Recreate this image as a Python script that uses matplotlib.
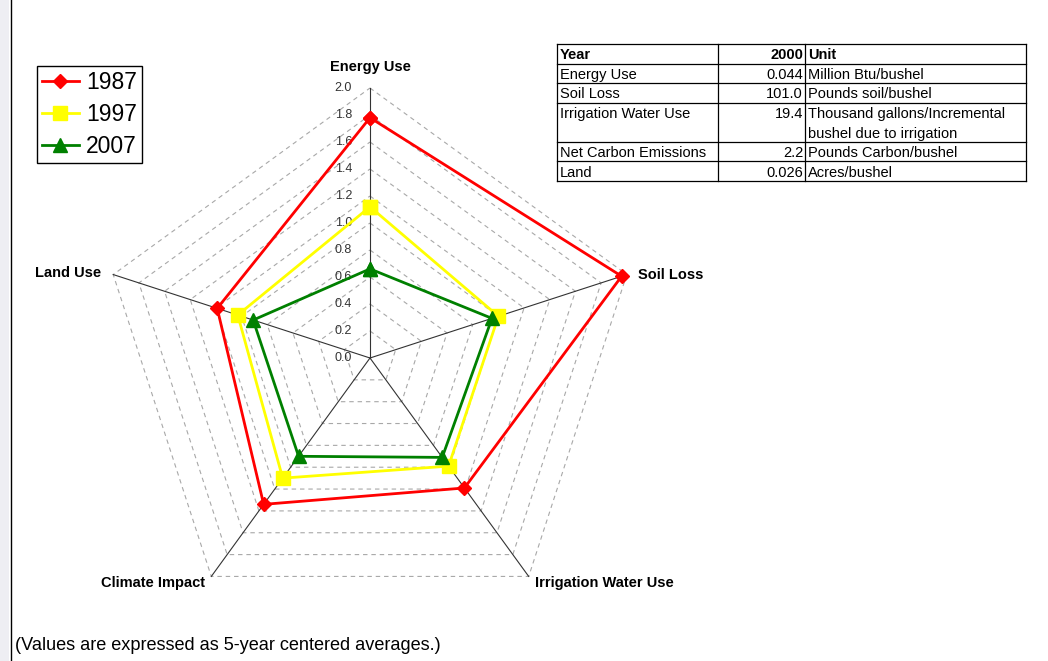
import numpy as np
import matplotlib
matplotlib.use("Agg")
import matplotlib.pyplot as plt
from matplotlib.lines import Line2D
from matplotlib.patches import Rectangle
from matplotlib.transforms import offset_copy

plt.rcParams['font.family'] = ['Liberation Sans', 'DejaVu Sans']

# ---------------- data ----------------
categories = ["Energy Use", "Soil Loss", "Irrigation Water Use", "Climate Impact", "Land Use"]
years = ["1987", "1997", "2007"]
values_1987 = [1.78, 1.96, 1.19, 1.34, 1.19]
values_1997 = [1.12, 1.00, 0.99, 1.10, 1.03]
values_2007 = [0.66, 0.95, 0.91, 0.90, 0.91]
r_ticks = [0.0, 0.2, 0.4, 0.6, 0.8, 1.0, 1.2, 1.4, 1.6, 1.8, 2.0]
r_max = 2.0

table_header = ["Year", "2000", "Unit"]
table_names = ["Energy Use", "Soil Loss", "Irrigation Water Use", "Net Carbon Emissions", "Land"]
table_values = ["0.044", "101.0", "19.4", "2.2", "0.026"]
table_units = ["Million Btu/bushel", "Pounds soil/bushel",
               "Thousand gallons/Incremental\nbushel due to irrigation",
               "Pounds Carbon/bushel", "Acres/bushel"]
footnote = "(Values are expressed as 5-year centered averages.)"

# ---------------- figure ----------------
W, H = 1048, 661
fig = plt.figure(figsize=(W / 100, H / 100), dpi=100)
fig.patch.set_facecolor("white")

def fr(x, y, w, h):
    """pixel box (top-left origin) -> figure fraction rect"""
    return [x / W, 1 - (y + h) / H, w / W, h / H]

# left border strip and frame line
fig.patches.append(Rectangle((0, 0), 9 / W, 1, transform=fig.transFigure,
                             facecolor="#eeeef3", edgecolor="none", zorder=0))
fig.lines.append(Line2D([10.5 / W, 10.5 / W], [0, 1], transform=fig.transFigure,
                        color="black", lw=1.0))

# ---------------- radar ----------------
cx, cy, R = 370, 358, 270
ax = fig.add_axes(fr(cx - R, cy - R, 2 * R, 2 * R), projection="polar")
ax.set_theta_offset(np.pi / 2)
ax.set_theta_direction(-1)
ax.set_ylim(0, r_max)
ax.grid(False)
ax.spines["polar"].set_visible(False)
ax.set_xticks([])
ax.set_yticks([])
ax.patch.set_alpha(0)

n = len(categories)
angles = np.arange(n) * 2 * np.pi / n
closed = np.concatenate([angles, angles[:1]])

# polygon gridlines
for r in r_ticks[1:]:
    ax.plot(closed, [r] * (n + 1), color="#a8a8a8", lw=0.8,
            ls=(0, (4, 3.5)), clip_on=False, zorder=1)
# spokes
for a in angles:
    ax.plot([a, a], [0, r_max], color="#333333", lw=0.8, clip_on=False, zorder=2)

# radial tick labels
lab_tr = offset_copy(ax.transData, fig=fig, x=-18, y=0, units="dots")
for r in r_ticks:
    ax.text(0, r, f"{r:.1f}", transform=lab_tr, ha="right", va="center",
            fontsize=9, color="#333333", zorder=3)

# category labels
label_specs = [
    (0, 21, "center"),
    (11, 0, "left"),
    (6, -7, "left"),
    (-6, -7, "right"),
    (-12, 2, "right"),
]
for a, name, (dx, dy, ha) in zip(angles, categories, label_specs):
    ax.annotate(name, xy=(a, r_max), xytext=(dx, dy), textcoords="offset pixels",
                ha=ha, va="center", fontsize=10.5, fontweight="bold",
                annotation_clip=False)

series = [
    (years[0], values_1987, "#ff0000", "D", 7.5),
    (years[1], values_1997, "#ffff00", "s", 9.5),
    (years[2], values_2007, "#008000", "^", 9.5),
]
handles = []
for i, (lab, vals, col, mk, ms) in enumerate(series):
    v = np.concatenate([vals, vals[:1]])
    h, = ax.plot(closed, v, color=col, lw=2, marker=mk, markersize=ms,
                 markerfacecolor=col, markeredgecolor=col, clip_on=False,
                 label=lab, zorder=4 + i)
    handles.append(h)

leg = fig.legend(handles=handles, loc="upper left",
                 bbox_to_anchor=(37 / W, 1 - 66 / H), fontsize=16.5,
                 frameon=True, fancybox=False, framealpha=1, edgecolor="black",
                 borderpad=0.2, labelspacing=0.4, handlelength=1.65,
                 handletextpad=0.3, borderaxespad=0)
leg.get_frame().set_linewidth(1.0)

# ---------------- table ----------------
tx, ty, tw, th = 557, 44, 469, 137
tab = fig.add_axes(fr(tx, ty, tw, th))
tab.set_xlim(0, tw)
tab.set_ylim(th, 0)
tab.axis("off")
col_x = [0, 161, 248, tw]
row_h = 19.5
row_lines = [1, 1, 1, 2, 1, 1]
row_y = [0]
for k in row_lines:
    row_y.append(row_y[-1] + k * row_h)
scale = th / row_y[-1]
row_y = [y * scale for y in row_y]
lc = "black"
for y in row_y:
    tab.plot([0, tw], [y, y], color=lc, lw=0.9, clip_on=False)
for x in col_x:
    tab.plot([x, x], [0, th], color=lc, lw=0.9, clip_on=False)

fs = 10.5
def put_row(i, cells, bold=False):
    top = row_y[i] + 1.5
    step = row_h * scale
    c0, c1, c2 = cells
    w = "bold" if bold else "normal"
    tab.text(col_x[0] + 3, top + step / 2, c0, ha="left", va="center", fontsize=fs, fontweight=w)
    tab.text(col_x[2] - 2, top + step / 2, c1, ha="right", va="center", fontsize=fs, fontweight=w)
    for j, line in enumerate(c2.split("\n")):
        tab.text(col_x[2] + 3, top + step / 2 + j * step, line, ha="left", va="center",
                 fontsize=fs, fontweight=w)

put_row(0, table_header, bold=True)
for i, (a, b, c) in enumerate(zip(table_names, table_values, table_units)):
    put_row(i + 1, (a, b, c))

# ---------------- footnote ----------------
fig.text(15 / W, 1 - 645 / H, footnote, ha="left", va="center", fontsize=13.1)

fig.savefig("out.png", dpi=100)
